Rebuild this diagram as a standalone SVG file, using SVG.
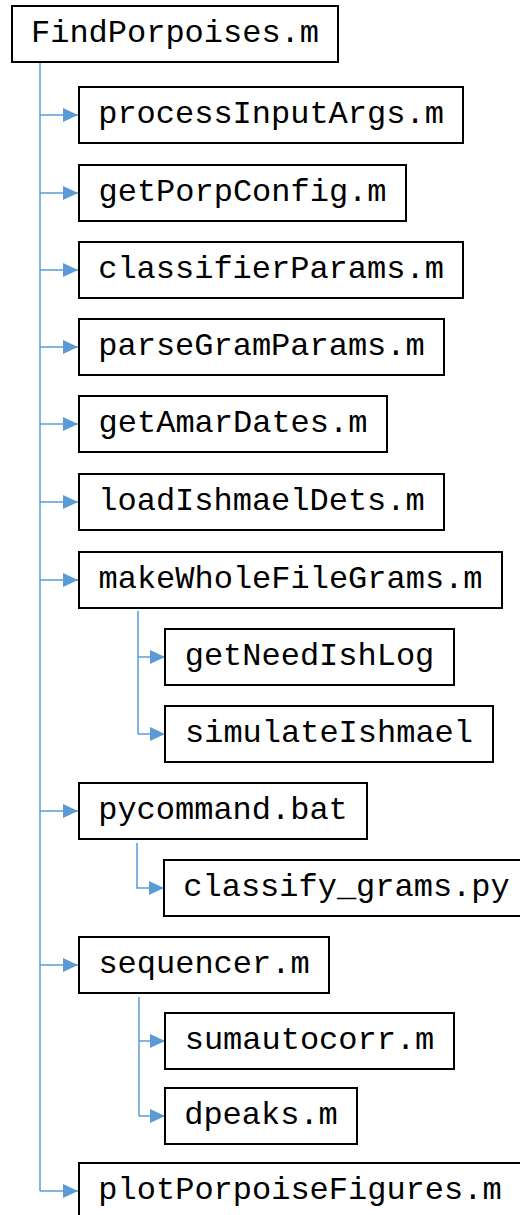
<svg xmlns="http://www.w3.org/2000/svg" width="520" height="1215" viewBox="0 0 520 1215">
<style>
.box{fill:#fff;stroke:#000;stroke-width:2}
.lbl{font-family:"Liberation Mono","Courier New",monospace;font-size:32px;fill:#000;text-anchor:middle}
.con{fill:none;stroke:#5B9BD5;stroke-width:1.5}
</style>
<defs>
<marker id="ah" markerUnits="userSpaceOnUse" markerWidth="16" markerHeight="14" refX="15" refY="7" orient="auto">
<path d="M0,0 L15,7 L0,14 z" fill="#5B9BD5"/>
</marker>
</defs>
<g id="connectors">
<path class="con" d="M40,62 V1191"/>
<path class="con" d="M40,115 H78" marker-end="url(#ah)"/>
<path class="con" d="M40,193 H78" marker-end="url(#ah)"/>
<path class="con" d="M40,270 H78" marker-end="url(#ah)"/>
<path class="con" d="M40,347 H78" marker-end="url(#ah)"/>
<path class="con" d="M40,424 H78" marker-end="url(#ah)"/>
<path class="con" d="M40,502 H78" marker-end="url(#ah)"/>
<path class="con" d="M40,580 H78" marker-end="url(#ah)"/>
<path class="con" d="M40,811 H78" marker-end="url(#ah)"/>
<path class="con" d="M40,965 H78" marker-end="url(#ah)"/>
<path class="con" d="M40,1191 H78" marker-end="url(#ah)"/>
<path class="con" d="M138,611 V734"/>
<path class="con" d="M138,657 H165" marker-end="url(#ah)"/>
<path class="con" d="M138,734 H165" marker-end="url(#ah)"/>
<path class="con" d="M137,843 V888 H164" marker-end="url(#ah)"/>
<path class="con" d="M139,997 V1116"/>
<path class="con" d="M139,1041 H165" marker-end="url(#ah)"/>
<path class="con" d="M139,1116 H165" marker-end="url(#ah)"/>
</g>
<g id="n0"><rect class="box" x="12" y="6" width="326" height="56"/><text class="lbl" x="175" y="42">FindPorpoises.m</text></g>
<g id="n1"><rect class="box" x="79" y="87" width="384" height="56"/><text class="lbl" x="271" y="123">processInputArgs.m</text></g>
<g id="n2"><rect class="box" x="79" y="165" width="327" height="56"/><text class="lbl" x="242.5" y="201">getPorpConfig.m</text></g>
<g id="n3"><rect class="box" x="79" y="242" width="384" height="56"/><text class="lbl" x="271" y="278">classifierParams.m</text></g>
<g id="n4"><rect class="box" x="79" y="319" width="365" height="56"/><text class="lbl" x="261.5" y="355">parseGramParams.m</text></g>
<g id="n5"><rect class="box" x="79" y="396" width="308" height="56"/><text class="lbl" x="233" y="432">getAmarDates.m</text></g>
<g id="n6"><rect class="box" x="79" y="474" width="365" height="56"/><text class="lbl" x="261.5" y="510">loadIshmaelDets.m</text></g>
<g id="n7"><rect class="box" x="79" y="552" width="423" height="56"/><text class="lbl" x="290.5" y="588">makeWholeFileGrams.m</text></g>
<g id="n8"><rect class="box" x="165" y="629" width="289" height="56"/><text class="lbl" x="309.5" y="665">getNeedIshLog</text></g>
<g id="n9"><rect class="box" x="165" y="706" width="328" height="56"/><text class="lbl" x="329" y="742">simulateIshmael</text></g>
<g id="n10"><rect class="box" x="79" y="783" width="288" height="56"/><text class="lbl" x="223" y="819">pycommand.bat</text></g>
<g id="n11"><rect class="box" x="164" y="860" width="365" height="56"/><text class="lbl" x="346.5" y="896">classify_grams.py</text></g>
<g id="n12"><rect class="box" x="79" y="937" width="250" height="56"/><text class="lbl" x="204" y="973">sequencer.m</text></g>
<g id="n13"><rect class="box" x="165" y="1013" width="289" height="56"/><text class="lbl" x="309.5" y="1049">sumautocorr.m</text></g>
<g id="n14"><rect class="box" x="165" y="1088" width="192" height="56"/><text class="lbl" x="261" y="1124">dpeaks.m</text></g>
<g id="n15"><rect class="box" x="79" y="1163" width="442" height="56"/><text class="lbl" x="300" y="1199">plotPorpoiseFigures.m</text></g>
</svg>
